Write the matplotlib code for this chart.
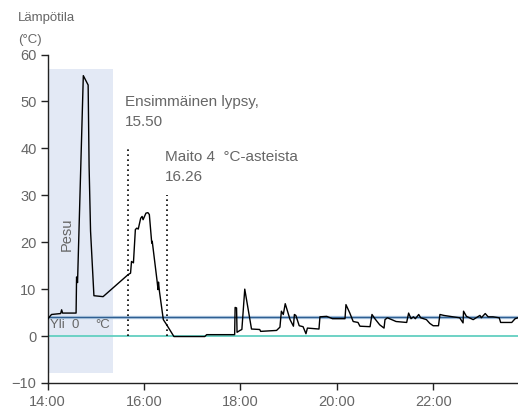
import matplotlib
matplotlib.use("Agg")
import matplotlib.pyplot as plt

plt.rcParams['font.family'] = ['Liberation Sans', 'DejaVu Sans']

# time in decimal hours, temperature in °C
time_h = [14.00, 14.03, 14.08, 14.27, 14.29, 14.31, 14.59, 14.60, 14.62, 14.74, 14.84,
          14.86, 14.89, 14.96, 15.15, 15.67, 15.72, 15.74, 15.78, 15.82, 15.85, 15.88,
          15.93, 15.96, 15.98, 16.04, 16.08, 16.11, 16.16, 16.17, 16.27, 16.29, 16.30,
          16.32, 16.40, 16.47, 16.62, 17.26, 17.30, 17.88, 17.89, 17.92, 17.93, 17.99,
          18.03, 18.09, 18.23, 18.40, 18.42, 18.75, 18.82, 18.85, 18.89, 18.93, 19.03,
          19.10, 19.12, 19.15, 19.22, 19.30, 19.36, 19.39, 19.63, 19.65, 19.79, 19.91,
          20.17, 20.19, 20.27, 20.34, 20.44, 20.48, 20.69, 20.73, 20.79, 20.89, 20.98,
          21.00, 21.05, 21.23, 21.45, 21.49, 21.54, 21.59, 21.63, 21.70, 21.74, 21.86,
          21.93, 22.00, 22.11, 22.14, 22.22, 22.41, 22.55, 22.62, 22.63, 22.69, 22.83,
          22.97, 23.00, 23.08, 23.14, 23.24, 23.37, 23.40, 23.63, 23.70, 23.76]
temp_c = [3.6, 4.0, 4.6, 4.8, 5.6, 4.9, 4.9, 12.6, 11.4, 55.5, 53.5,
          36.1, 22.4, 8.6, 8.4, 13.1, 13.4, 15.9, 15.6, 22.7, 23.0, 22.8,
          25.1, 25.5, 24.8, 26.2, 26.3, 25.9, 19.8, 20.2, 11.8, 9.9, 11.5,
          9.5, 3.5, 2.4, -0.1, -0.1, 0.3, 0.3, 6.1, 6.0, 0.8, 1.2,
          1.4, 10.0, 1.5, 1.4, 1.0, 1.2, 1.9, 5.3, 4.6, 6.9, 3.5,
          2.1, 4.6, 4.4, 2.2, 2.0, 0.5, 1.7, 1.5, 4.1, 4.2, 3.7,
          3.7, 6.7, 4.9, 3.1, 2.9, 2.1, 2.0, 4.6, 3.7, 2.4, 1.7,
          3.5, 3.9, 3.1, 2.9, 4.9, 3.7, 4.1, 3.7, 4.6, 3.9, 3.5,
          2.7, 2.2, 2.2, 4.6, 4.4, 4.1, 3.9, 2.8, 5.3, 4.2, 3.5,
          4.4, 3.9, 4.8, 4.1, 4.1, 3.9, 2.9, 2.9, 3.7, 3.9]

x_ticks = [14, 16, 18, 20, 22]
x_tick_labels = ["14:00", "16:00", "18:00", "20:00", "22:00"]
y_ticks = [-10, 0, 10, 20, 30, 40, 50, 60]

wash_start, wash_end = 14.0, 15.35
wash_low, wash_high = -7.8, 56.9
first_milking = 15.67
first_milking_top = 40.3
milk_cooled = 16.48
milk_cooled_top = 30.1
limit_line = 4.0
zero_line = 0.0

grey = "#666666"

fig = plt.figure(figsize=(5.18, 4.09), dpi=100)
ax = fig.add_axes([0.092, 0.0636, 0.908, 0.8031])

ax.fill_between([wash_start, wash_end], wash_low, wash_high, color="#e3e9f5", lw=0, zorder=0)

ax.axhline(limit_line, color="#b8cfe6", lw=2.4, zorder=1)
ax.axhline(limit_line, color="#2f5f92", lw=1.0, zorder=2)
ax.axhline(zero_line, color="#62cfc0", lw=1.3, zorder=2)

ax.plot([first_milking, first_milking], [0, first_milking_top], color="black", ls=(0, (1, 2)), lw=1.2, zorder=3)
ax.plot([milk_cooled, milk_cooled], [0, milk_cooled_top], color="black", ls=(0, (1, 2)), lw=1.2, zorder=3)

ax.plot(time_h, temp_c, color="black", lw=1.0, zorder=4)

ax.set_xlim(14.0, 23.76)
ax.set_ylim(-10, 60)
ax.set_xticks(x_ticks)
ax.set_xticklabels(x_tick_labels)
ax.set_yticks(y_ticks)

for s in ["top", "right"]:
    ax.spines[s].set_visible(False)
for s in ["left", "bottom"]:
    ax.spines[s].set_color("#222222")
    ax.spines[s].set_linewidth(1.0)
ax.tick_params(axis="both", colors="#222222", labelcolor=grey, labelsize=10.5, length=5, width=1)
ax.tick_params(axis="y", pad=3)
ax.tick_params(axis="x", pad=4)

fs = 11
ax.text(15.60, 49.9, "Ensimmäinen lypsy,", color=grey, fontsize=fs, va="center", ha="left")
ax.text(15.60, 45.6, "15.50", color=grey, fontsize=fs, va="center", ha="left")
ax.text(16.43, 38.2, "Maito 4  °C-asteista", color=grey, fontsize=fs, va="center", ha="left")
ax.text(16.43, 33.9, "16.26", color=grey, fontsize=fs, va="center", ha="left")
ax.text(14.05, 2.4, "Yli  0", color=grey, fontsize=9.5, va="center", ha="left")
ax.text(14.98, 2.4, "°C", color=grey, fontsize=9.5, va="center", ha="left")
ax.text(14.40, 21.8, "Pesu", color=grey, fontsize=10.5, va="center", ha="center", rotation=90)

fig.text(0.035, 0.956, "Lämpötila", color=grey, fontsize=9.5, va="center", ha="left")
fig.text(0.035, 0.902, "(°C)", color=grey, fontsize=9.5, va="center", ha="left")

fig.savefig("out.png", dpi=100)
